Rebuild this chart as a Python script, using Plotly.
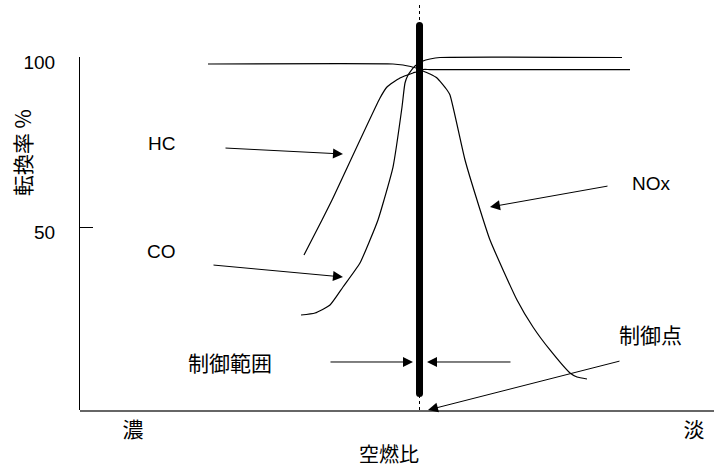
import plotly.graph_objects as go

# ---- data (x: relative air-fuel position 0..100, y: conversion %) ----
hc_x = [35.33, 38.17, 39.75, 47.32, 48.42, 50.47, 52.52, 53.0, 54.10, 55.21, 86.75]
hc_y = [41.94, 52.20, 58.06, 87.98, 91.20, 93.84, 95.31, 95.60, 96.33, 96.33, 96.33]

co_x = [34.86, 37.07, 39.43, 41.48, 44.16, 45.74, 47.0, 47.95, 49.37, 50.79, 51.26,
        51.74, 52.05, 52.84, 54.10, 55.21, 56.78, 85.49]
co_y = [24.34, 24.93, 27.27, 32.55, 39.59, 46.33, 52.20, 58.06, 67.74, 85.34, 92.38,
        94.72, 95.60, 97.36, 98.83, 99.41, 99.85, 99.85]

nox_x = [20.19, 49.37, 50.95, 51.74, 53.0, 54.10, 55.21, 56.31, 57.89, 58.36, 60.73,
         62.62, 64.67, 68.93, 71.45, 74.13, 77.29, 78.39, 79.97]
nox_y = [97.95, 97.95, 97.65, 97.36, 96.77, 95.89, 95.01, 93.84, 90.32, 88.86, 69.79,
         58.06, 46.33, 28.74, 20.82, 14.08, 7.33, 6.16, 5.57]

control_x = 53.55                  # control point (stoichiometric)
control_range_y = [1.32, 109.24]   # thick control-range bar
guide_y = [-3.52, 115.84]          # dotted guide line

y_ticks = [50, 100]
x_tick_pos = [8.36, 96.85]
x_tick_text = ["濃", "淡"]

# labels: (text, x, y)
labels = [("HC", 12.78, 74.78), ("CO", 12.93, 42.82), ("NOx", 90.22, 63.05)]
cjk_labels = [("制御範囲", 23.66, 10.56), ("制御点", 90.06, 18.77)]

# arrows: (tip_x, tip_y, tail_x, tail_y)
arrows = [
    (41.48, 71.55, 22.87, 73.31),   # HC
    (41.48, 35.48, 20.98, 39.00),   # CO
    (64.67, 56.01, 83.28, 62.17),   # NOx
    (52.52, 10.56, 39.43, 10.56),   # control range (left)
    (54.73, 10.56, 67.98, 10.56),   # control range (right)
    (54.89, -3.52, 85.17, 10.85),   # control point
]

Y_RANGE = [-3.52, 116.72]
LATIN = "Liberation Sans, Arial, sans-serif"
CJK = "Noto Sans CJK JP, sans-serif"

fig = go.Figure()
line_style = dict(color="black", width=1.2)
fig.add_trace(go.Scatter(x=[control_x, control_x], y=guide_y, mode="lines",
                         line=dict(color="black", width=1, dash="dot"), hoverinfo="skip"))
fig.add_trace(go.Scatter(x=nox_x, y=nox_y, mode="lines", line=line_style, line_shape="spline",
                         line_smoothing=0.5, name="NOx"))
fig.add_trace(go.Scatter(x=hc_x, y=hc_y, mode="lines", line=line_style, line_shape="spline",
                         line_smoothing=0.5, name="HC"))
fig.add_trace(go.Scatter(x=co_x, y=co_y, mode="lines", line=line_style, line_shape="spline",
                         line_smoothing=0.5, name="CO"))
fig.add_trace(go.Scatter(x=[control_x, control_x], y=control_range_y, mode="lines+markers",
                         line=dict(color="black", width=7),
                         marker=dict(color="black", size=7), name="制御範囲"))
# empty trace to bring up the left axis (which ends at 100)
fig.add_trace(go.Scatter(x=[], y=[], xaxis="x", yaxis="y2", showlegend=False))

for tx, ty, ax_, ay_ in arrows:
    fig.add_annotation(x=tx, y=ty, ax=ax_, ay=ay_, xref="x", yref="y", axref="x", ayref="y",
                       text="", showarrow=True, arrowhead=2, arrowsize=2.0, arrowwidth=1,
                       arrowcolor="black", standoff=0, startstandoff=0, borderpad=0)

for t, x, y in labels:
    fig.add_annotation(x=x, y=y, xref="x", yref="y", text=t, showarrow=False,
                       xanchor="center", yanchor="middle",
                       font=dict(family=LATIN, size=19, color="black"))
for t, x, y in cjk_labels:
    fig.add_annotation(x=x, y=y, xref="x", yref="y", text=t, showarrow=False,
                       xanchor="center", yanchor="middle",
                       font=dict(family=CJK, size=21, color="black"))

fig.add_annotation(x=0.487, y=-0.107, xref="paper", yref="paper", text="空燃比",
                   xanchor="center", yanchor="middle", borderpad=0,
                   showarrow=False, font=dict(family=CJK, size=20, color="black"))
fig.add_annotation(x=-0.0915, y=0.629, xref="paper", yref="paper", text="転換率 %",
                   xanchor="center", yanchor="middle",
                   textangle=-90, showarrow=False, font=dict(family=CJK, size=21, color="black"))

fig.update_layout(
    template="none",
    width=714, height=469,
    margin=dict(l=80, r=0, t=0, b=59, pad=0),
    paper_bgcolor="white", plot_bgcolor="rgba(0,0,0,0)",
    showlegend=False,
    xaxis=dict(range=[0, 100], showgrid=False, zeroline=False, showline=True,
               automargin=False,
               linecolor="#666666", linewidth=2, ticks="",
               tickvals=x_tick_pos, ticktext=x_tick_text, ticklabelstandoff=0,
               tickfont=dict(family=CJK, size=21, color="black")),
    yaxis=dict(range=Y_RANGE, showgrid=False, zeroline=False, showline=False,
               automargin=False, showticklabels=False, ticks=""),
    yaxis2=dict(domain=[0, (100 - Y_RANGE[0]) / (Y_RANGE[1] - Y_RANGE[0])],
                anchor="x", range=[Y_RANGE[0], 100], showgrid=False, zeroline=False,
                automargin=False,
                showline=True, linecolor="black", linewidth=1,
                ticks="inside", ticklen=13, tickcolor="black", tickwidth=1,
                tickvals=y_ticks, ticktext=[str(v) for v in y_ticks],
                ticklabelstandoff=20, ticklabelshift=5,
                tickfont=dict(family=LATIN, size=19, color="black")),
)

fig.write_html("out.html", config={"displayModeBar": False},
               post_script="document.body.style.margin='0';document.body.style.overflow='hidden';")
